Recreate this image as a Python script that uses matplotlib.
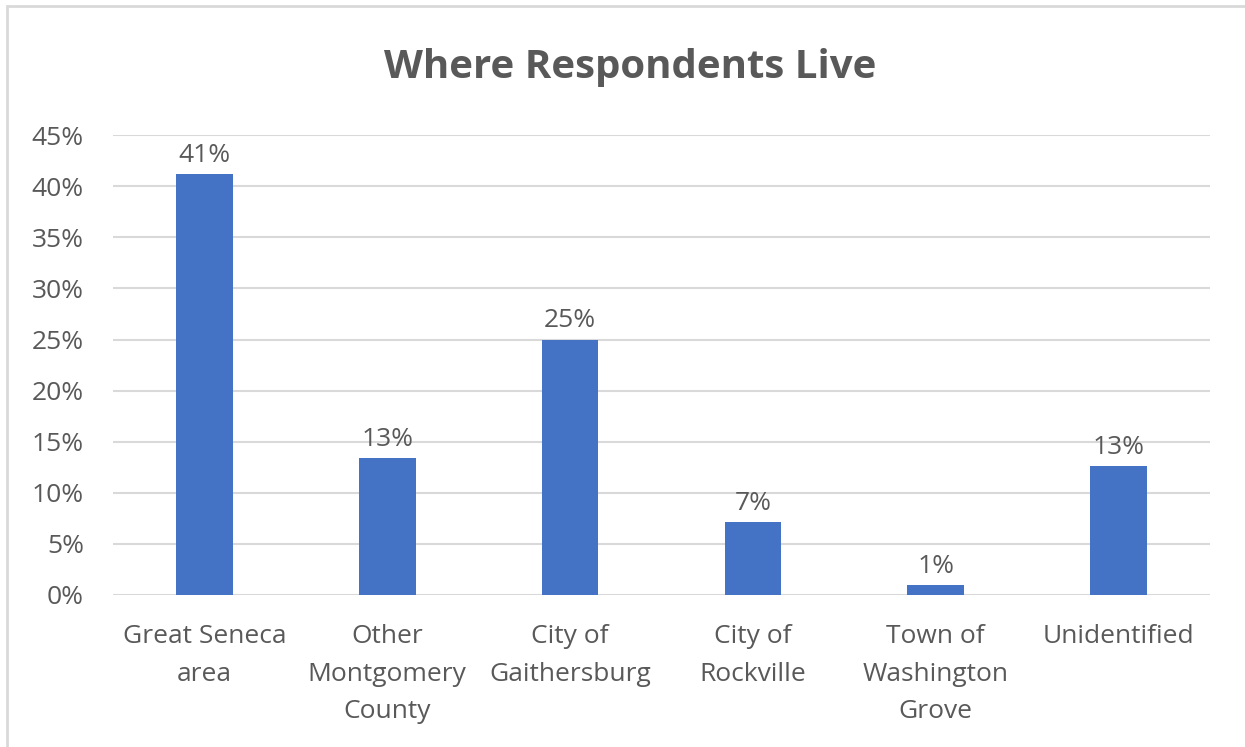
import matplotlib.pyplot as plt
from matplotlib.patches import Rectangle
from matplotlib.ticker import FuncFormatter

plt.rcParams['font.family'] = ['Open Sans', 'DejaVu Sans']

categories = ["Great Seneca\narea", "Other\nMontgomery\nCounty", "City of\nGaithersburg",
              "City of\nRockville", "Town of\nWashington\nGrove", "Unidentified"]
values = [41.2, 13.4, 25.0, 7.1, 1.0, 12.6]
labels = ["41%", "13%", "25%", "7%", "1%", "13%"]

text_col = '#595959'
bar_col = '#4472C4'
grid_col = '#D9D9D9'

fig = plt.figure(figsize=(12.45, 7.47), dpi=100)
ax = fig.add_axes([0.0908, 0.2035, 0.881, 0.6155])

# outer chart border
fig.patches.append(Rectangle((7 / 1245, -0.1), 1.2, (747 - 6) / 747 + 0.1,
                             transform=fig.transFigure, fill=False,
                             edgecolor='#D9D9D9', linewidth=2))

x = list(range(len(categories)))
bars = ax.bar(x, values, width=0.31, color=bar_col, zorder=3)
for b, lab in zip(bars, labels):
    ax.text(b.get_x() + b.get_width() / 2, b.get_height() + 0.6, lab,
            ha='center', va='bottom', fontsize=19, color=text_col)

ax.set_ylim(0, 45)
ax.set_xlim(-0.5, len(categories) - 0.5)
ax.set_yticks(range(0, 46, 5))
ax.yaxis.set_major_formatter(FuncFormatter(lambda v, p: f"{int(v)}%"))
ax.grid(axis='y', color=grid_col, linewidth=1.5, zorder=0)
ax.set_xticks(x)
ax.set_xticklabels(categories, linespacing=1.65)
ax.tick_params(axis='both', length=0, labelsize=19, labelcolor=text_col)
ax.tick_params(axis='x', pad=21)
ax.tick_params(axis='y', pad=21)
for s in ax.spines.values():
    s.set_visible(False)

fig.text(0.506, 0.910, "Where Respondents Live", ha='center', va='center',
         fontsize=29, fontweight='bold', color=text_col)

fig.savefig('out.png', dpi=100)
